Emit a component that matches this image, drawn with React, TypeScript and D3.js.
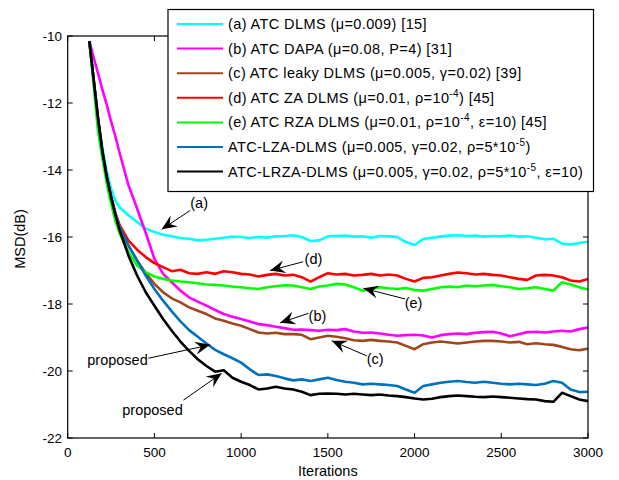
import React from 'react';
import * as d3 from 'd3';

const WIDTH = 619;
const HEIGHT = 480;
const M = { left: 67.7, right: 588, top: 36, bottom: 438 };

// iteration grid shared by every curve
const ITER = [
  125, 150, 175, 200, 225, 250, 275, 300, 350, 400, 450, 500, 550, 600, 650, 700,
  750, 800, 850, 900, 950, 1000, 1050, 1100, 1150, 1200, 1250, 1300, 1350, 1400,
  1450, 1500, 1550, 1600, 1650, 1700, 1750, 1800, 1850, 1900, 1950, 2000, 2050,
  2100, 2150, 2200, 2250, 2300, 2350, 2400, 2450, 2500, 2550, 2600, 2650, 2700,
  2750, 2800, 2850, 2900, 2950, 3000,
];

const MSD_A = [
  -10.15, -11.35, -12.45, -13.35, -14.05, -14.55, -14.92, -15.12,
  -15.35, -15.55, -15.75, -15.85, -15.93, -15.98, -16.03, -16.05, -16.1, -16.08, -16.05, -16.02, -15.99, -16.0, -16.03, -16.0,
  -16.02, -15.98, -15.97, -15.95, -16.0, -16.12, -16.1, -15.98, -15.97, -15.96, -15.99, -15.98, -16.02, -15.97, -15.98, -16.0,
  -16.15, -16.24, -16.06, -16.02, -15.99, -15.96, -15.95, -15.97, -15.96, -15.99, -15.97, -15.98, -15.96, -15.99, -15.98,
  -16.02, -16.07, -16.05, -16.2, -16.22, -16.18, -16.14,
];
const MSD_B = [
  -10.15, -10.65, -11.12, -11.6, -12.05, -12.55, -13.0, -13.5,
  -14.45, -15.15, -15.88, -16.65, -17.1, -17.35, -17.6, -17.8, -17.93, -18.05, -18.18, -18.3, -18.38, -18.45, -18.52, -18.6,
  -18.63, -18.68, -18.72, -18.77, -18.76, -18.78, -18.8, -18.77, -18.78, -18.75, -18.82, -18.86, -18.85, -18.88, -18.92, -18.95,
  -18.93, -18.92, -18.94, -19.0, -18.93, -18.9, -18.88, -18.9, -18.86, -18.84, -18.83, -18.88, -18.96, -18.9, -18.84,
  -18.83, -18.85, -18.82, -18.8, -18.82, -18.75, -18.7,
];
const MSD_C = [
  -10.15, -11.33, -12.5, -13.45, -14.2, -14.8, -15.3, -15.72,
  -16.25, -16.7, -17.08, -17.4, -17.65, -17.83, -17.95, -18.1, -18.2, -18.3, -18.43, -18.5, -18.58, -18.65, -18.75, -18.85,
  -18.88, -18.86, -18.9, -18.9, -18.92, -19.05, -19.0, -18.95, -18.98, -19.02, -19.08, -19.1, -19.07, -19.1, -19.12, -19.15,
  -19.25, -19.35, -19.2, -19.15, -19.12, -19.15, -19.18, -19.15, -19.12, -19.1, -19.1, -19.12, -19.15, -19.13, -19.2,
  -19.17, -19.2, -19.22, -19.28, -19.35, -19.38, -19.33,
];
const MSD_D = [
  -10.15, -11.35, -12.5, -13.45, -14.2, -14.8, -15.3, -15.65,
  -16.1, -16.38, -16.6, -16.78, -16.9, -17.02, -16.98, -17.08, -17.1, -17.05, -17.1, -17.02, -17.05, -17.1, -17.12, -17.18,
  -17.13, -17.1, -17.15, -17.13, -17.2, -17.33, -17.2, -17.08, -17.12, -17.1, -17.15, -17.13, -17.1, -17.15, -17.12, -17.15,
  -17.25, -17.33, -17.22, -17.2, -17.15, -17.1, -17.06, -17.08, -17.12, -17.1, -17.13, -17.15, -17.2, -17.25, -17.28,
  -17.15, -17.13, -17.15, -17.2, -17.3, -17.33, -17.25,
];
const MSD_E = [
  -10.15, -11.5, -12.85, -13.65, -14.4, -15.0, -15.52, -15.9,
  -16.45, -16.85, -17.05, -17.18, -17.25, -17.3, -17.33, -17.35, -17.38, -17.42, -17.43, -17.45, -17.48, -17.5, -17.53, -17.55,
  -17.5, -17.47, -17.44, -17.45, -17.5, -17.55, -17.48, -17.45, -17.4, -17.42, -17.5, -17.6, -17.55, -17.5, -17.53, -17.55,
  -17.52, -17.58, -17.6, -17.55, -17.5, -17.48, -17.5, -17.45, -17.47, -17.45, -17.43, -17.47, -17.5, -17.55, -17.53,
  -17.5, -17.55, -17.6, -17.35, -17.42, -17.5, -17.57,
];
const MSD_LZA = [
  -10.15, -11.33, -12.5, -13.45, -14.2, -14.8, -15.3, -15.72,
  -16.25, -16.7, -17.15, -17.55, -17.9, -18.22, -18.52, -18.78, -18.98, -19.18, -19.37, -19.5, -19.62, -19.75, -19.95, -20.12,
  -20.1, -20.15, -20.22, -20.28, -20.25, -20.3, -20.25, -20.2, -20.27, -20.32, -20.35, -20.4, -20.38, -20.4, -20.42, -20.45,
  -20.55, -20.65, -20.45, -20.4, -20.35, -20.32, -20.3, -20.33, -20.35, -20.32, -20.35, -20.38, -20.4, -20.38, -20.4,
  -20.42, -20.38, -20.3, -20.35, -20.55, -20.63, -20.62,
];
const MSD_LRZA = [
  -10.15, -11.3, -12.45, -13.45, -14.2, -14.8, -15.35, -15.8,
  -16.55, -17.15, -17.65, -18.05, -18.45, -18.8, -19.12, -19.4, -19.65, -19.85, -20.02, -19.98, -20.2, -20.32, -20.42, -20.55,
  -20.52, -20.47, -20.52, -20.55, -20.62, -20.72, -20.68, -20.67, -20.68, -20.7, -20.68, -20.7, -20.72, -20.7, -20.73, -20.75,
  -20.78, -20.82, -20.85, -20.83, -20.78, -20.75, -20.73, -20.75, -20.77, -20.78, -20.76, -20.78, -20.8, -20.82, -20.84,
  -20.85, -20.9, -20.92, -20.65, -20.75, -20.85, -20.9,
];

const X_TICKS = [0, 500, 1000, 1500, 2000, 2500, 3000];
const Y_TICKS = [-22, -20, -18, -16, -14, -12, -10];

// legend text pieces: [text, superscript?]
const SERIES = [
  { values: MSD_A, color: '#00ffff', label: [['(a) ATC DLMS (μ=0.009) [15]']] },
  { values: MSD_B, color: '#ff00ff', label: [['(b) ATC DAPA (μ=0.08, P=4) [31]']] },
  { values: MSD_C, color: '#a0461e', label: [['(c) ATC leaky DLMS (μ=0.005, γ=0.02) [39]']] },
  { values: MSD_D, color: '#ff0000', label: [['(d) ATC ZA DLMS (μ=0.01, ρ=10'], ['-4', true], [') [45]']] },
  { values: MSD_E, color: '#00ff00', label: [['(e) ATC RZA DLMS (μ=0.01, ρ=10'], ['-4', true], [', ε=10) [45]']] },
  { values: MSD_LZA, color: '#0072bd', label: [['ATC-LZA-DLMS (μ=0.005, γ=0.02, ρ=5*10'], ['-5', true], [')']] },
  { values: MSD_LRZA, color: '#000000', label: [['ATC-LRZA-DLMS (μ=0.005, γ=0.02, ρ=5*10'], ['-5', true], [', ε=10)']] },
];

// annotation text, text anchor point, arrow tail and arrow tip (iteration, dB)
const NOTES = [
  { text: '(a)', at: [758, -14.99], from: [706, -15.21], to: [542, -15.77] },
  { text: '(d)', at: [1417, -16.67], from: [1357, -16.74], to: [1167, -17.0] },
  { text: '(e)', at: [1994, -17.98], from: [1946, -17.85], to: [1705, -17.53] },
  { text: '(b)', at: [1440, -18.36], from: [1388, -18.28], to: [1225, -18.56] },
  { text: '(c)', at: [1773, -19.65], from: [1725, -19.55], to: [1523, -19.1] },
  { text: 'proposed', at: [287, -19.67], from: [465, -19.62], to: [821, -19.22] },
  { text: 'proposed', at: [489, -21.16], from: [667, -20.87], to: [888, -20.07] },
];

const FONT = '"Liberation Sans", Arial, Helvetica, sans-serif';

function arrowHead(x1: number, y1: number, x2: number, y2: number) {
  const a = Math.atan2(y2 - y1, x2 - x1);
  const len = 15, half = 6.5, back = 9.5;
  const bx = x2 - len * Math.cos(a), by = y2 - len * Math.sin(a);
  const nx = -Math.sin(a), ny = Math.cos(a);
  const cx = x2 - back * Math.cos(a), cy = y2 - back * Math.sin(a);
  return `M${x2},${y2}L${bx + nx * half},${by + ny * half}L${cx},${cy}L${bx - nx * half},${by - ny * half}Z`;
}

export default function App() {
  const x = d3.scaleLinear().domain([0, 3000]).range([M.left, M.right]);
  const y = d3.scaleLinear().domain([-22, -10]).range([M.bottom, M.top]);
  const line = d3.line<number>().x((_, i) => x(ITER[i])).y(d => y(d));

  const legX = 168, legY = 9.5, legW = 425.5, legH = 182, rowH = 24.6;

  return (
    <svg width={WIDTH} height={HEIGHT} style={{ position: 'absolute', left: 0, top: 0, background: '#fff' }}
      fontFamily={FONT}>
      <rect x={0} y={0} width={WIDTH} height={HEIGHT} fill="#fff" />
      <defs>
        <clipPath id="plotclip">
          <rect x={M.left} y={M.top} width={M.right - M.left} height={M.bottom - M.top} />
        </clipPath>
      </defs>
      <g clipPath="url(#plotclip)">
        {SERIES.map((s, i) => (
          <path key={i} d={line(s.values) || ''} fill="none" stroke={s.color} strokeWidth={2.6} strokeLinejoin="round" />
        ))}
      </g>

      {/* frame and ticks */}
      <rect x={M.left} y={M.top} width={M.right - M.left} height={M.bottom - M.top} fill="none" stroke="#000" strokeWidth={1.2} />
      {X_TICKS.map(t => (
        <g key={'x' + t}>
          <line x1={x(t)} x2={x(t)} y1={M.bottom} y2={M.bottom - 5} stroke="#000" />
          <line x1={x(t)} x2={x(t)} y1={M.top} y2={M.top + 5} stroke="#000" />
          <text x={x(t)} y={457} fontSize={13.5} textAnchor="middle">{t}</text>
        </g>
      ))}
      {Y_TICKS.map(t => (
        <g key={'y' + t}>
          <line x1={M.left} x2={M.left + 5} y1={y(t)} y2={y(t)} stroke="#000" />
          <line x1={M.right} x2={M.right - 5} y1={y(t)} y2={y(t)} stroke="#000" />
          <text x={62} y={y(t) + 4.5} fontSize={13.5} textAnchor="end">{t}</text>
        </g>
      ))}
      <text x={(M.left + M.right) / 2} y={476} fontSize={14.5} textAnchor="middle">Iterations</text>
      <text transform={`translate(25,${(M.top + M.bottom) / 2 + 2}) rotate(-90)`} fontSize={14.5} textAnchor="middle">MSD(dB)</text>

      {/* annotations */}
      {NOTES.map((n, i) => {
        const x1 = x(n.from[0]), y1 = y(n.from[1]), x2 = x(n.to[0]), y2 = y(n.to[1]);
        return (
          <g key={'n' + i}>
            <line x1={x1} y1={y1} x2={x2} y2={y2} stroke="#000" strokeWidth={1} />
            <path d={arrowHead(x1, y1, x2, y2)} fill="#000" />
            <text x={x(n.at[0])} y={y(n.at[1]) + 5} fontSize={14.5} textAnchor="middle">{n.text}</text>
          </g>
        );
      })}

      {/* legend */}
      <rect x={legX} y={legY} width={legW} height={legH} fill="#fff" stroke="#000" strokeWidth={1.2} />
      {SERIES.map((s, i) => {
        const cy = legY + 14.5 + i * rowH;
        return (
          <g key={'l' + i}>
            <line x1={177} x2={223} y1={cy} y2={cy} stroke={s.color} strokeWidth={2} />
            <text x={228} y={cy + 5} fontSize={14.5} letterSpacing={0.4}>
              {s.label.map((p, j) => p[1]
                ? <tspan key={j} dy={-6} fontSize={10}>{p[0]}</tspan>
                : <tspan key={j} dy={j > 0 ? 6 : 0}>{p[0]}</tspan>)}
            </text>
          </g>
        );
      })}
    </svg>
  );
}
